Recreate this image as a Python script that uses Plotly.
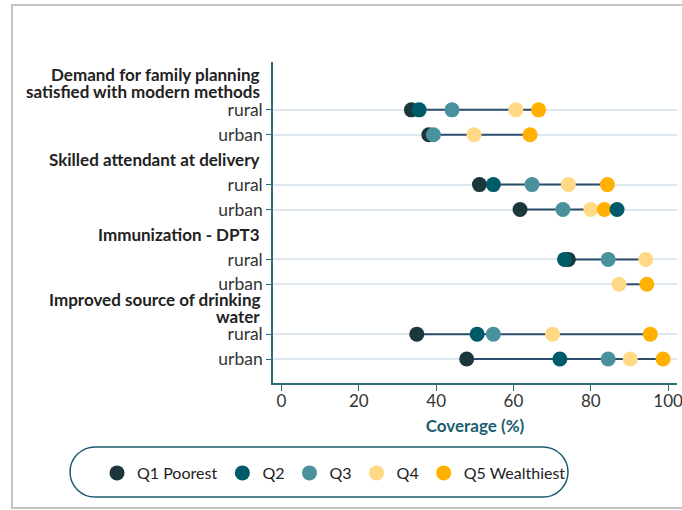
import plotly.graph_objects as go

indicators = [
    ["Demand for family planning", "satisfied with modern methods"],
    ["Skilled attendant at delivery"],
    ["Immunization - DPT3"],
    ["Improved source of drinking", "water"],
]
areas = ["rural", "urban"]
quintiles = ["Q1 Poorest", "Q2", "Q3", "Q4", "Q5 Wealthiest"]
colors = ["#1b373c", "#005b68", "#4a919e", "#ffd986", "#ffb000"]

# values per quintile, rows: (FP rural, FP urban, SBA rural, SBA urban, DPT rural, DPT urban, W rural, W urban)
q1 = [33.6, 38.1, 51.2, 61.7, 74.2, None, 35.0, 47.9]
q2 = [35.6, None, 54.8, 86.8, 73.2, None, 50.6, 72.0]
q3 = [44.1, 39.3, 64.8, 72.8, 84.5, None, 54.8, 84.5]
q4 = [60.6, 49.8, 74.2, 80.0, 94.2, 87.3, 70.1, 90.2]
q5 = [66.5, 64.3, 84.3, 83.5, None, 94.5, 95.4, 98.7]
series = [q1, q2, q3, q4, q5]

# layout positions of rows (header row then rural, urban)
row_y = []
row_label = []
header_y = []
for g in range(len(indicators)):
    header_y.append(g * 3)
    for k, a in enumerate(areas):
        row_y.append(g * 3 + 1 + k)
        row_label.append(a)

fig = go.Figure()

# connecting lines
lx, ly = [], []
for i, y in enumerate(row_y):
    vals = [s[i] for s in series if s[i] is not None]
    lx += [min(vals), max(vals), None]
    ly += [y, y, None]
fig.add_trace(go.Scatter(x=lx, y=ly, mode="lines", line=dict(color="#2b4e6e", width=2),
                         showlegend=False, hoverinfo="skip"))

draw_order = [0, 2, 3, 4, 1]
for qi in draw_order:
    fig.add_trace(go.Scatter(
        x=series[qi], y=row_y, mode="markers", name=quintiles[qi],
        marker=dict(size=15, color=colors[qi], line=dict(width=0)),
        legendrank=qi + 1,
    ))

W, H = 682, 510
L, R, T, B = 273, 5, 62, 127
pw, ph = W - L - R, H - T - B


def px(x):
    return (x - L) / pw


def py(y):
    return (H - B - y) / ph


shapes = []
# page border (grey): top, left, bottom edges
border = f"M {px(682)},{py(5)} L {px(12)},{py(5)} L {px(12)},{py(508)} L {px(682)},{py(508)}"
shapes.append(dict(type="path", xref="paper", yref="paper", path=border,
                   line=dict(color="#c4c4c4", width=2), layer="below"))

# rounded legend box
bl, br, bt, bb = 70, 568, 447, 497
r = (bb - bt) / 2
k = 0.5523
Lx, Rx = px(bl), px(br)
Ty, By = py(bt), py(bb)
rx, ry = r / pw, r / ph
My = (Ty + By) / 2
path = (
    f"M {Lx+rx},{Ty} L {Rx-rx},{Ty} "
    f"C {Rx-rx+k*rx},{Ty} {Rx},{My+k*ry} {Rx},{My} "
    f"C {Rx},{My-k*ry} {Rx-rx+k*rx},{By} {Rx-rx},{By} "
    f"L {Lx+rx},{By} "
    f"C {Lx+rx-k*rx},{By} {Lx},{My-k*ry} {Lx},{My} "
    f"C {Lx},{My+k*ry} {Lx+rx-k*rx},{Ty} {Lx+rx},{Ty} Z"
)
shapes.append(dict(type="path", xref="paper", yref="paper", path=path,
                   line=dict(color="#1c5e6e", width=1.5)))

annotations = []
line_gap = 17
for g, lines in enumerate(indicators):
    n = len(lines)
    for j, text in enumerate(lines):
        shift = ((n - 1) / 2 - j) * line_gap + (1.5 if n > 1 else 0)
        annotations.append(dict(
            x=px(262), xref="paper", y=header_y[g], yref="y", text="<b>" + text + "</b>",
            xanchor="right", yanchor="middle", align="right", showarrow=False,
            yshift=shift,
            font=dict(family="Lato", size=17, color="#222222"),
        ))

fig.update_layout(
    width=W, height=H,
    margin=dict(l=L, r=R, t=T, b=B, autoexpand=False),
    plot_bgcolor="white", paper_bgcolor="white",
    font=dict(family="Lato", color="#333333"),
    shapes=shapes,
    annotations=annotations,
    legend=dict(orientation="h", x=px(97), y=py(473), xanchor="left", yanchor="middle",
                font=dict(family="Lato", size=16, color="#222222"),
                bgcolor="rgba(0,0,0,0)", traceorder="normal"),
    xaxis=dict(range=[-2.2, 102.3], tickvals=[0, 20, 40, 60, 80, 100],
               showgrid=False, zeroline=False, showline=True, linecolor="#2a6d78", linewidth=1.5,
               ticks="outside", ticklen=6, tickcolor="#2a6d78",
               ticklabeloverflow="allow", ticklabelstandoff=-4,
               tickfont=dict(family="Lato", size=17, color="#333333"),
               title=dict(text="<b>Coverage (%)</b>", standoff=10,
                          font=dict(family="Lato", size=17, color="#1a5e6e"))),
    yaxis=dict(range=[11.96, -0.92], tickvals=row_y, ticktext=row_label,
               showgrid=True, gridcolor="#dfe8ee", gridwidth=1.5, zeroline=False,
               showline=True, linecolor="#2a6d78", linewidth=1.5,
               ticks="outside", ticklen=5, tickcolor="#2a6d78",
               tickfont=dict(family="Lato", size=17.5, color="#333333")),
)

fig.write_html("out.html", config={"displayModeBar": False},
               post_script="document.body.style.margin='0';document.body.style.overflow='hidden';")
